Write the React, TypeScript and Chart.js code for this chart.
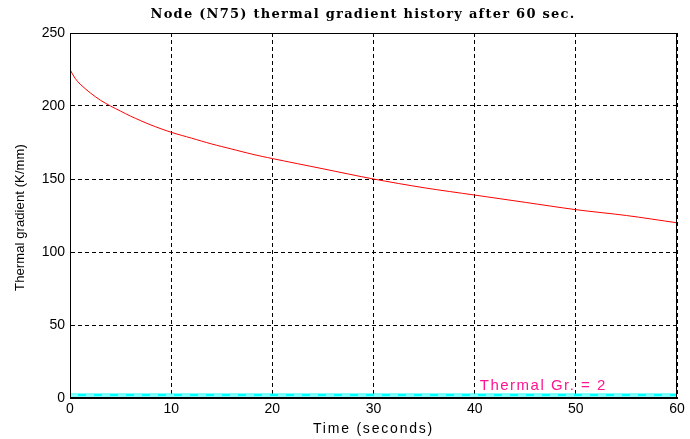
import React, { useEffect, useRef } from "react";
import { Chart, registerables } from "chart.js";

Chart.register(...registerables);

const titleText = "Node (N75) thermal gradient history after 60 sec.";
const xAxisTitle = "Time (seconds)";
const yAxisTitle = "Thermal gradient (K/mm)";
const annotationText = "Thermal Gr. = 2";

const timeValues = [0, 0.5, 1, 2, 3, 4, 5, 6, 8, 10, 12, 14, 16, 18, 20, 25, 30, 35, 40, 45, 50, 55, 60];
const gradientValues = [225, 219, 215, 209, 204, 200, 196.5, 193, 187, 182, 178, 174, 170.5, 167, 164, 157, 150, 144, 139, 134, 129, 125, 120];
const thresholdTimes = [0, 60];
const thresholdValue = 2;
const annotationPos = { x: 40.5, y: 8.5 };

const xTicks = [0, 10, 20, 30, 40, 50, 60];
const yTicks = [0, 50, 100, 150, 200, 250];

export default function App() {
  const ref = useRef<HTMLCanvasElement | null>(null);

  useEffect(() => {
    if (!ref.current) return;
    const framePlugin = {
      id: "frameAndText",
      afterDraw(chart: any) {
        const ctx = chart.ctx;
        const a = chart.chartArea;
        ctx.save();
        ctx.strokeStyle = "#000";
        ctx.lineWidth = 1;
        ctx.setLineDash([]);
        ctx.strokeRect(a.left + 0.5, a.top + 0.5, a.right - a.left - 1, a.bottom - a.top - 1);
        ctx.fillStyle = "#000";
        // title
        ctx.font = "bold 13px 'DejaVu Serif'";
        ctx.letterSpacing = "1.25px";
        ctx.textAlign = "center";
        ctx.textBaseline = "middle";
        ctx.fillText(titleText, 363, 15);
        // x axis title
        ctx.font = "14px 'Liberation Sans', Arial";
        ctx.letterSpacing = "1.8px";
        ctx.fillText(xAxisTitle, (a.left + a.right) / 2, 429);
        // y axis title
        ctx.save();
        ctx.translate(20, (a.top + a.bottom) / 2 + 2);
        ctx.rotate(-Math.PI / 2);
        ctx.font = "13px 'Liberation Sans', Arial";
        ctx.letterSpacing = "0.1px";
        ctx.fillText(yAxisTitle, 0, 0);
        ctx.restore();
        // annotation
        const xs = chart.scales.x;
        const ys = chart.scales.y;
        ctx.fillStyle = "#ff1493";
        ctx.font = "15px 'Liberation Sans', Arial";
        ctx.letterSpacing = "1.5px";
        ctx.textAlign = "left";
        ctx.textBaseline = "middle";
        ctx.fillText(annotationText, xs.getPixelForValue(annotationPos.x), ys.getPixelForValue(annotationPos.y));
        ctx.restore();
      },
    };

    const chart = new Chart(ref.current, {
      type: "line",
      data: {
        datasets: [
          {
            data: thresholdTimes.map((t) => ({ x: t, y: thresholdValue })),
            borderColor: "#00ffff",
            borderWidth: 3,
            pointRadius: 0,
            order: 2,
          },
          {
            data: thresholdTimes.map((t) => ({ x: t, y: thresholdValue })),
            borderColor: "#ffffff",
            borderWidth: 1,
            borderDash: [8, 8],
            pointRadius: 0,
            order: 1,
          },
          {
            data: timeValues.map((t, i) => ({ x: t, y: gradientValues[i] })),
            borderColor: "#ff0000",
            borderWidth: 1,
            pointRadius: 0,
            tension: 0.3,
            order: 0,
          },
        ],
      },
      options: {
        animation: false,
        responsive: false,
        layout: { padding: { top: 33, right: 13, left: 0, bottom: 0 } },
        plugins: { legend: { display: false }, title: { display: false }, tooltip: { enabled: false } },
        scales: {
          x: {
            type: "linear",
            min: 0,
            max: 60,
            afterBuildTicks: (s: any) => { s.ticks = xTicks.map((v) => ({ value: v })); },
            afterFit: (s: any) => { s.height = 41; },
            grid: { color: "#000", lineWidth: 1, drawTicks: false },
            border: { display: true, color: "#000", dash: [4, 3] },
            ticks: { color: "#000", font: { family: "'Liberation Sans', Arial", size: 14 }, padding: 3, maxRotation: 0 },
          },
          y: {
            min: 0,
            max: 250,
            afterBuildTicks: (s: any) => { s.ticks = yTicks.map((v) => ({ value: v })); },
            afterFit: (s: any) => { s.width = 70; },
            grid: { color: "#000", lineWidth: 1, drawTicks: false },
            border: { display: true, color: "#000", dash: [4, 3] },
            ticks: { color: "#000", font: { family: "'Liberation Sans', Arial", size: 14 }, padding: 5 },
          },
        },
      },
      plugins: [framePlugin],
    } as any);
    return () => chart.destroy();
  }, []);

  return (
    <div style={{ position: "absolute", left: 0, top: 0, width: 690, height: 439, background: "#fff" }}>
      <canvas ref={ref} width={690} height={439} />
    </div>
  );
}
